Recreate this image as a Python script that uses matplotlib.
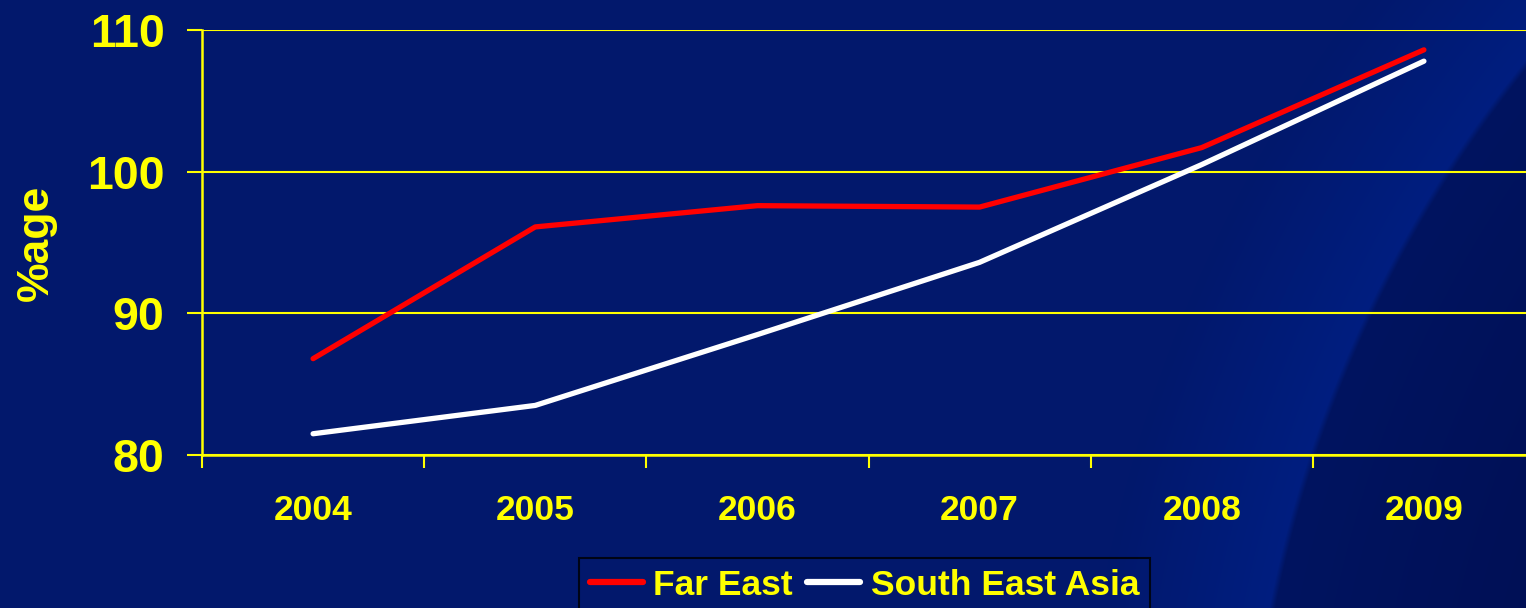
import numpy as np
import matplotlib
matplotlib.use("Agg")
import matplotlib.pyplot as plt
from matplotlib.lines import Line2D

# Data
years = ["2004", "2005", "2006", "2007", "2008", "2009"]
far_east = [86.8, 96.1, 97.6, 97.5, 101.7, 108.6]
south_east_asia = [81.5, 83.5, 88.5, 93.6, 100.5, 107.8]
y_ticks = [80, 90, 100, 110]

YELLOW = "#FFFF00"
FONT = "Liberation Sans"

W, H = 1526, 608
fig = plt.figure(figsize=(W / 100, H / 100), dpi=100)

# Slide-style navy backdrop with a darker sweeping arc on the right
yy, xx = np.mgrid[0:H, 0:W].astype(float)
d = np.hypot(xx - 2500.0, yy - 850.0)
r = 1252.0
base = np.array([2, 24, 108], float)
glow = np.array([0, 30, 128], float)
dark = np.array([0, 15, 84], float)
t_out = np.clip((d - r) / 170.0, 0, 1)[..., None]
outside = glow * (1 - t_out) + base * t_out
t_in = np.clip((r - d) / 300.0, 0, 1)[..., None]
inside = np.array([0, 20, 96], float) * (1 - t_in) + dark * t_in
edge = np.clip((d - r) / 6.0 + 0.5, 0, 1)[..., None]
img = (inside * (1 - edge) + outside * edge) / 255.0

bg = fig.add_axes([0, 0, 1, 1], zorder=0)
bg.imshow(img, extent=(0, W, H, 0), aspect="auto", interpolation="bilinear")
bg.axis("off")

ax = fig.add_axes([202 / W, 1 - 455 / H, 1333 / W, 425 / H], zorder=1)
ax.set_facecolor("none")

x = np.arange(len(years))
ax.plot(x, far_east, color="#FF0000", lw=3.8, solid_capstyle="round",
        solid_joinstyle="round", label="Far East", zorder=3)
ax.plot(x, south_east_asia, color="white", lw=3.8, solid_capstyle="round",
        solid_joinstyle="round", label="South East Asia", zorder=3)

ax.set_xlim(-0.5, 5.5)
ax.set_ylim(80, 110)

# Category boundaries get tick marks, centres carry the labels
ax.set_xticks(np.arange(-0.5, 5.6, 1.0))
ax.set_xticklabels([])
ax.set_xticks(x, minor=True)
ax.set_xticklabels(years, minor=True, fontsize=25.5, fontweight="bold",
                   color=YELLOW, family=FONT)
ax.tick_params(axis="x", which="major", direction="out", length=9,
               width=1.5, color=YELLOW)
ax.tick_params(axis="x", which="minor", length=0, pad=28)

ax.set_yticks(y_ticks)
ax.set_yticklabels([str(v) for v in y_ticks], fontsize=33.5,
                   fontweight="bold", color=YELLOW, family=FONT)
ax.tick_params(axis="y", direction="out", length=11, width=1.5,
               color=YELLOW, pad=16)

ax.grid(axis="y", color=YELLOW, lw=1.5, zorder=1)
ax.set_axisbelow(True)

for side in ("left", "bottom"):
    ax.spines[side].set_color(YELLOW)
    ax.spines[side].set_linewidth(1.8)
for side in ("top", "right"):
    ax.spines[side].set_visible(False)

ax.set_ylabel("%age", fontsize=32, fontweight="bold", color=YELLOW,
              family=FONT, labelpad=22)

handles = [Line2D([], [], color="#FF0000", lw=4.5, solid_capstyle="round"),
           Line2D([], [], color="white", lw=4.5, solid_capstyle="round")]
leg = fig.legend(handles, ["Far East", "South East Asia"], ncol=2,
                 loc="upper left", bbox_to_anchor=(579 / W, 1 - 558 / H),
                 frameon=True, fancybox=False, handlelength=1.5,
                 handletextpad=0.3, columnspacing=0.4, borderpad=0.3,
                 borderaxespad=0,
                 prop={"family": FONT, "weight": "bold", "size": 25.5})
leg.get_frame().set_facecolor("none")
leg.get_frame().set_edgecolor("black")
leg.get_frame().set_linewidth(1.5)
for txt in leg.get_texts():
    txt.set_color(YELLOW)

fig.savefig("out.png", dpi=100)
